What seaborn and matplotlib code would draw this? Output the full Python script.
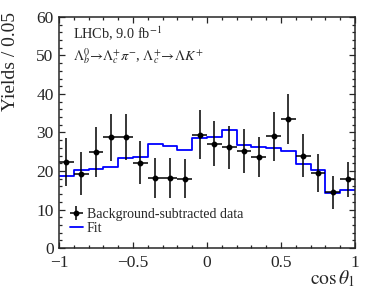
import numpy as np
import pandas as pd
import matplotlib
matplotlib.use("Agg")
import matplotlib.pyplot as plt
from matplotlib.ticker import MultipleLocator
import seaborn as sns

# bins in cos(theta_1): 20 bins of width 0.1 from -1 to 1
bin_centers = np.round(np.arange(-0.95, 1.0, 0.1), 2)

# background-subtracted data
data_yield = [22.3, 19.3, 24.9, 28.8, 28.9, 22.1, 18.3, 18.2, 18.0, 29.4,
              27.1, 26.1, 25.2, 23.6, 29.0, 33.5, 24.0, 19.4, 14.5, 17.8]
data_err = [6.2, 5.5, 6.4, 6.1, 6.0, 5.6, 5.2, 5.1, 5.0, 6.3,
            5.8, 5.6, 5.7, 5.2, 6.3, 6.4, 5.6, 4.9, 4.3, 4.6]

# fit result per bin
fit_yield = [18.7, 20.2, 20.5, 21.0, 23.5, 23.6, 26.9, 26.4, 25.5, 28.6,
             28.8, 30.6, 26.7, 26.3, 25.9, 25.1, 21.8, 20.3, 14.4, 15.1]

fit_df = pd.DataFrame({"cos": bin_centers, "fit": fit_yield})

sns.set_theme(style="ticks")
plt.rcParams["font.family"] = ["Liberation Serif", "DejaVu Serif"]
plt.rcParams["mathtext.fontset"] = "stix"

fig = plt.figure(figsize=(3.74, 2.96), dpi=100)
ax = fig.add_axes([0.158, 0.162, 0.791, 0.781])

sns.histplot(data=fit_df, x="cos", weights="fit", binwidth=0.1, binrange=(-1, 1),
             element="step", fill=False, color="blue", linewidth=1.3, ax=ax,
             label="Fit")
ax.errorbar(bin_centers, data_yield, xerr=0.05, yerr=data_err, fmt="o",
            color="black", markersize=3.2, elinewidth=1.1, capsize=0,
            label="Background-subtracted data")

ax.set_xlim(-1, 1)
ax.set_ylim(0, 60)
ax.xaxis.set_minor_locator(MultipleLocator(0.1))
ax.yaxis.set_major_locator(MultipleLocator(10))
ax.yaxis.set_minor_locator(MultipleLocator(2))
ax.set_xticks([-1, -0.5, 0, 0.5, 1])
ax.set_xticklabels(["\u22121", "\u22120.5", "0", "0.5", "1"])
ax.tick_params(which="both", direction="in", top=True, right=True,
               labelsize=12.5, width=0.9)
ax.tick_params(axis="x", which="major", pad=5)
ax.tick_params(axis="y", which="major", pad=4)
ax.tick_params(which="major", length=4.5)
ax.tick_params(which="minor", length=2.3)
for s in ax.spines.values():
    s.set_linewidth(1.1)

ax.set_xlabel(r"$\cos\theta_1$", fontsize=14, loc="right", labelpad=-2)
ax.set_ylabel("Yields / 0.05", fontsize=14, loc="top")
ax.yaxis.set_label_coords(-0.135, 1.02)

ax.text(0.047, 0.965, r"LHCb, 9.0 fb$^{-1}$", transform=ax.transAxes,
        fontsize=10.3, va="top")
ax.text(0.047, 0.875,
        r"$\mathit{\Lambda}_b^0\!\to\!\mathit{\Lambda}_c^{+}\pi^{-}$, "
        r"$\mathit{\Lambda}_c^{+}\!\to\!\mathit{\Lambda} K^{+}$",
        transform=ax.transAxes, fontsize=10.3, va="top")

handles, labels = ax.get_legend_handles_labels()
order = [labels.index("Background-subtracted data"), labels.index("Fit")]
ax.legend([handles[i] for i in order], [labels[i] for i in order],
          loc="lower left", bbox_to_anchor=(0.0, 0.01), frameon=False,
          fontsize=10, handlelength=0.9, handletextpad=0.3,
          labelspacing=0.05, borderaxespad=0.4)

fig.savefig("out.png", dpi=100)
